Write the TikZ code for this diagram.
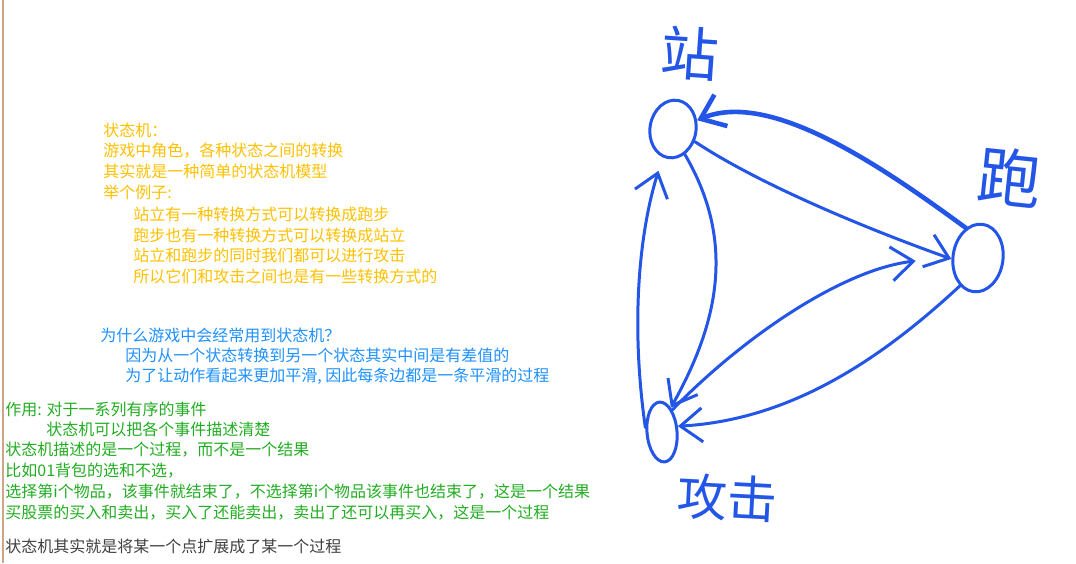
\documentclass[tikz,border=0pt]{standalone}
\usepackage{fontspec}
\newfontfamily\cjk{Noto Sans CJK SC}
\usepackage{xcolor}
\definecolor{noteorange}{RGB}{255,192,0}
\definecolor{noteblue}{RGB}{30,144,255}
\definecolor{notegreen}{RGB}{34,172,34}
\definecolor{notegray}{RGB}{64,64,64}
\definecolor{penblue}{RGB}{35,85,230}
\definecolor{edgetan}{RGB}{205,165,135}
\usetikzlibrary{arrows.meta,shapes.geometric}

\begin{document}
\begin{tikzpicture}[x=0.5pt,y=-0.5pt,
  note/.style={anchor=west,inner sep=0pt,font=\cjk\fontsize{8}{10}\selectfont},
  state/.style={draw=penblue,ellipse,line width=1.5pt,inner sep=0pt},
  hand/.style={inner sep=0pt,text=penblue},
  pen/.style={-{Straight Barb[length=11pt,width=17pt]},line width=1.5pt,penblue,line cap=round}]
  \useasboundingbox (0,0) rectangle (1076,563);
  % margin line
  \draw[edgetan,line width=1pt] (3,0) -- (3,563);
  % State machine notes
  \node[note,noteorange] (o1) at (103,130) {状态机：};
  \node[note,noteorange] (o2) at (103,151) {游戏中角色，各种状态之间的转换};
  \node[note,noteorange] (o3) at (103,171) {其实就是一种简单的状态机模型};
  \node[note,noteorange] (o4) at (103,192) {举个例子:};
  \node[note,noteorange] (o5) at (133,214) {站立有一种转换方式可以转换成跑步};
  \node[note,noteorange] (o6) at (133,235) {跑步也有一种转换方式可以转换成站立};
  \node[note,noteorange] (o7) at (133,255) {站立和跑步的同时我们都可以进行攻击};
  \node[note,noteorange] (o8) at (133,276) {所以它们和攻击之间也是有一些转换方式的};
  % Why
  \node[note,noteblue] (b1) at (100,335) {为什么游戏中会经常用到状态机？};
  \node[note,noteblue] (b2) at (125,355) {因为从一个状态转换到另一个状态其实中间是有差值的};
  \node[note,noteblue] (b3) at (125,376) {为了让动作看起来更加平滑, 因此每条边都是一条平滑的过程};
  % Use
  \node[note,notegreen] (g1) at (5,409) {作用: 对于一系列有序的事件};
  \node[note,notegreen] (g2) at (46,429) {状态机可以把各个事件描述清楚};
  \node[note,notegreen] (g3) at (5,450) {状态机描述的是一个过程，而不是一个结果};
  \node[note,notegreen] (g4) at (5,471) {比如01背包的选和不选，};
  \node[note,notegreen] (g5) at (5,492) {选择第i个物品，该事件就结束了，不选择第i个物品该事件也结束了，这是一个结果};
  \node[note,notegreen] (g6) at (5,513) {买股票的买入和卖出，买入了还能卖出，卖出了还可以再买入，这是一个过程};
  \node[note,notegray] (s1) at (5,546) {状态机其实就是将某一个点扩展成了某一个过程};
  % States
  \node[state,minimum width=23pt,minimum height=29pt,rotate=-10] (stand) at (673,129) {};
  \node[state,minimum width=25pt,minimum height=34pt,rotate=-8] (run) at (978,258) {};
  \node[state,minimum width=15pt,minimum height=30pt,rotate=5] (attack) at (662,432) {};
  \node[hand,font=\cjk\fontsize{29}{29}\selectfont,rotate=-4] (standlbl) at (690,53) {站};
  \node[hand,font=\cjk\fontsize{32}{32}\selectfont,rotate=-6] (runlbl) at (1010,177) {跑};
  \node[hand,font=\cjk\fontsize{25}{25}\selectfont,rotate=-3] (attacklbl) at (727,498) {攻击};
  % Transitions
  \draw[pen,line width=2.3pt] (run.120) .. controls (880,165) and (770,90) .. (stand.30);
  \draw[pen] (stand.-20) .. controls (760,185) and (870,230) .. (run.190);
  \draw[pen,shorten >=18pt] (attack.60) .. controls (740,340) and (840,270) .. (run.185);
  \draw[pen] (run.-115) .. controls (880,360) and (790,420) .. (attack.15);
  \draw[pen] (stand.-55) .. controls (735,240) and (720,320) .. (attack.65);
  \draw[pen,shorten >=7pt] (attack.160) .. controls (630,320) and (640,230) .. (stand.-100);
\end{tikzpicture}
\end{document}
